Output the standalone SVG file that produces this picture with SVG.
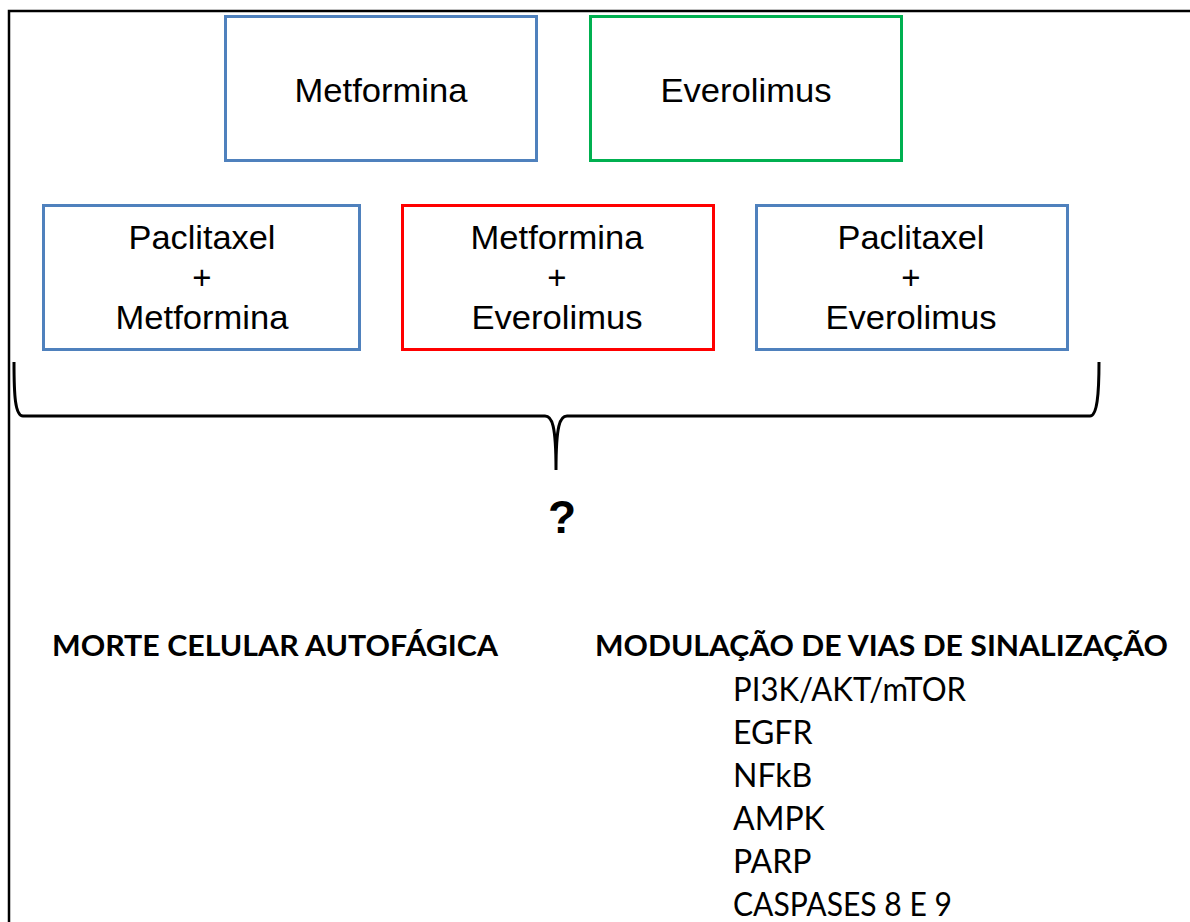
<svg xmlns="http://www.w3.org/2000/svg" width="1190" height="922" viewBox="0 0 1190 922">
<style>
.box{fill:#fff;stroke-width:3}
.blue{stroke:#4F81BD}
.green{stroke:#00B050}
.red{stroke:#FF0000}
.lbl{font-family:"Liberation Sans",Arial,sans-serif;font-size:33px;fill:#000;text-anchor:middle}
.hd{font-family:Lato,"Open Sans",sans-serif;font-weight:bold;font-size:29px;fill:#000}
.it{font-family:Lato,"Open Sans",sans-serif;font-size:32px;fill:#000}
</style>
<rect width="1190" height="922" fill="#fff"/>
<path d="M9 922 V11 H1190" fill="none" stroke="#000" stroke-width="2.5"/>
<g id="n-metformina">
<rect class="box blue" x="225.5" y="16.5" width="311" height="144"/>
<text class="lbl" x="381" y="102" textLength="173" lengthAdjust="spacingAndGlyphs">Metformina</text>
</g>
<g id="n-everolimus">
<rect class="box green" x="590.5" y="16.5" width="311" height="144"/>
<text class="lbl" x="746" y="102" textLength="171" lengthAdjust="spacingAndGlyphs">Everolimus</text>
</g>
<g id="n-pac-met">
<rect class="box blue" x="43.5" y="205.5" width="316" height="144"/>
<text class="lbl" x="202" y="249" textLength="147" lengthAdjust="spacingAndGlyphs">Paclitaxel</text>
<text class="lbl" x="202" y="289">+</text>
<text class="lbl" x="202" y="329" textLength="173" lengthAdjust="spacingAndGlyphs">Metformina</text>
</g>
<g id="n-met-eve">
<rect class="box red" x="402.5" y="205.5" width="311" height="144"/>
<text class="lbl" x="557" y="249" textLength="173" lengthAdjust="spacingAndGlyphs">Metformina</text>
<text class="lbl" x="557" y="289">+</text>
<text class="lbl" x="557" y="329" textLength="171" lengthAdjust="spacingAndGlyphs">Everolimus</text>
</g>
<g id="n-pac-eve">
<rect class="box blue" x="756.5" y="205.5" width="311" height="144"/>
<text class="lbl" x="911" y="249" textLength="147" lengthAdjust="spacingAndGlyphs">Paclitaxel</text>
<text class="lbl" x="911" y="289">+</text>
<text class="lbl" x="911" y="329" textLength="171" lengthAdjust="spacingAndGlyphs">Everolimus</text>
</g>
<g id="connectors">
<path d="M14 362 C14 395 15 416 23 416 H545 C552 416 556 425 556 470 C556 425 560 416 567 416 H1090 C1097 416 1099 395 1099 362" fill="none" stroke="#000" stroke-width="3"/>
</g>
<g id="n-question">
<text x="562" y="533" font-family="Liberation Sans,Arial,sans-serif" font-weight="bold" font-size="46" text-anchor="middle">?</text>
</g>
<g id="n-morte">
<text class="hd" x="52" y="656" textLength="446" lengthAdjust="spacingAndGlyphs">MORTE CELULAR AUTOFÁGICA</text>
</g>
<g id="n-modulacao">
<text class="hd" x="595" y="656" textLength="573" lengthAdjust="spacingAndGlyphs">MODULAÇÃO DE VIAS DE SINALIZAÇÃO</text>
<text class="it" x="733" y="701" textLength="233" lengthAdjust="spacingAndGlyphs">PI3K/AKT/mTOR</text>
<text class="it" x="733" y="744">EGFR</text>
<text class="it" x="733" y="787">NFkB</text>
<text class="it" x="733" y="830">AMPK</text>
<text class="it" x="733" y="873">PARP</text>
<text class="it" x="733" y="916" textLength="219" lengthAdjust="spacingAndGlyphs">CASPASES 8 E 9</text>
</g>
</svg>
